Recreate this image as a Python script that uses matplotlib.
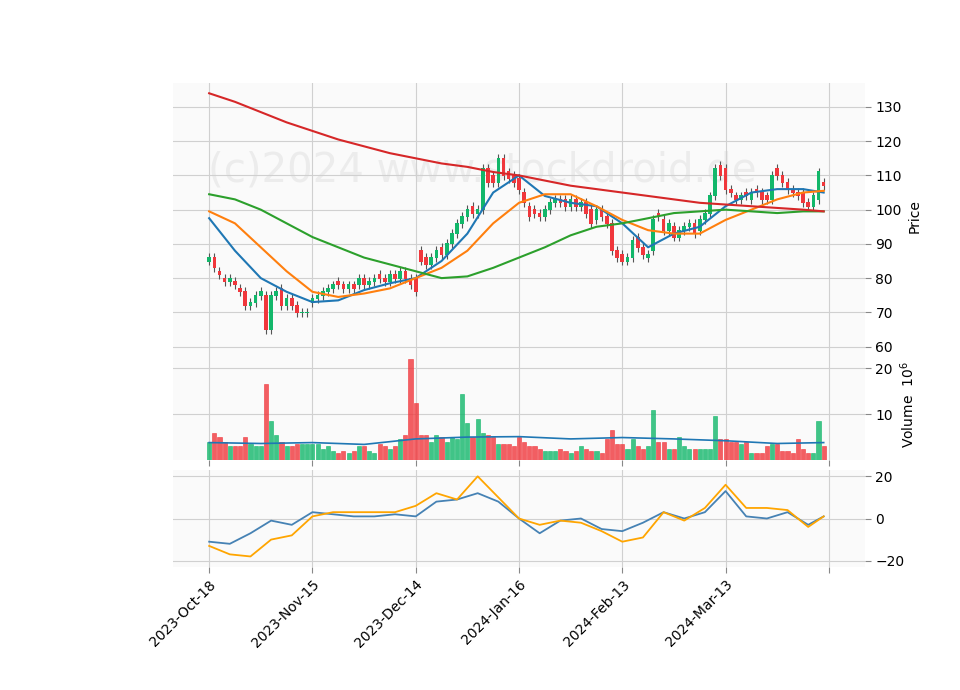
import matplotlib
matplotlib.use("Agg")
import matplotlib.pyplot as plt
import numpy as np

# ---- data ----
opens = [85, 86, 82, 80, 79, 79, 77, 76, 72, 73,
         75, 75, 65, 75, 77, 72, 74, 72, 70, 70,
         73, 74, 75, 76, 77, 79, 78, 77, 78, 78,
         80, 78, 79, 81, 80, 79, 81, 80, 82, 80,
         80, 88, 86, 84, 86, 89, 87, 90, 93, 96,
         98, 101, 99, 100, 112, 110, 108, 115, 111, 110,
         109, 105, 101, 100, 99, 98, 100, 102, 103, 103,
         101, 103, 101, 102, 100, 97, 100, 98, 96, 88,
         87, 85, 86, 92, 89, 86, 88, 99, 97, 94,
         95, 92, 94, 95, 96, 94, 97, 99, 104, 113,
         112, 106, 104, 103, 105, 103, 106, 105, 104, 103,
         112, 110, 108, 106, 105, 105, 102, 101, 103, 108]
closes = [86, 83, 81, 79, 80, 78, 76, 72, 73, 75,
          76, 65, 75, 76, 72, 74, 72, 70, 70, 70,
          74, 75, 76, 77, 78, 78, 77, 78, 77, 80,
          78, 79, 80, 80, 79, 81, 80, 82, 80, 78,
          76, 85, 84, 86, 88, 87, 90, 93, 96, 98,
          100, 99, 100, 112, 108, 108, 115, 110, 109, 108,
          106, 102, 98, 99, 98, 100, 102, 103, 102, 101,
          103, 101, 102, 99, 96, 100, 98, 96, 88, 86,
          85, 86, 91, 89, 87, 87, 97, 98, 94, 96,
          92, 94, 95, 96, 93, 97, 99, 104, 112, 110,
          106, 105, 103, 104, 104, 105, 105, 103, 103, 110,
          110, 108, 106, 105, 104, 102, 101, 104, 111, 107]
wick = 1.3

volumes = [4, 6, 5, 4, 3, 3, 3, 5, 3.5, 3,
           3, 16.5, 8.5, 5.5, 4, 3, 3, 3.5, 3.5, 3.5,
           3.5, 3.5, 2.5, 3, 2, 1.5, 2, 1.5, 2, 3,
           3, 2, 1.5, 3.5, 3, 2.5, 3, 4.5, 5.5, 22,
           12.5, 5.5, 5.5, 4, 5.5, 5, 4, 5, 4.5, 14.5,
           8, 5, 9, 6, 5.5, 5, 3.5, 3.5, 3.5, 3,
           5, 4, 3, 3, 2.5, 2, 2, 2, 2.5, 2,
           1.5, 2, 3, 2.5, 2, 2, 1.5, 4.5, 6.5, 3.5,
           3.5, 2.5, 4.5, 3, 2.5, 3, 11, 4, 4, 2.5,
           2.5, 5, 3, 2.5, 2.5, 2.5, 2.5, 2.5, 9.5, 4.5,
           4.5, 4, 4, 3.5, 4, 1.5, 1.5, 1.5, 3, 3.5,
           3.5, 2, 2, 1.5, 4.5, 2.5, 1.5, 1.5, 8.5, 3]

ma_idx = [0, 5, 10, 15, 20, 25, 30, 35, 40, 45, 50, 55, 60, 65, 70, 75, 80,
          85, 90, 95, 100, 105, 110, 115, 119]
ma_blue = [97.5, 88, 80, 76, 73, 73.5, 76.5, 78.5, 80, 85, 93, 105, 110, 104,
           102, 101, 96, 89, 93, 95, 101, 105, 106, 106, 105]
ma_orange = [99.5, 96, 89, 82, 76, 74.5, 75.5, 77, 80, 83, 88, 96, 102, 104.5,
             104.5, 101, 97, 94, 93, 93, 97, 100, 103, 105, 105.5]
ma_green = [104.5, 103, 100, 96, 92, 89, 86, 84, 82, 80, 80.5, 83, 86, 89,
            92.5, 95, 96, 97.5, 99, 99.5, 100, 99.5, 99, 99.5, 99.5]
ma_red = [134, 131.5, 128.5, 125.5, 123, 120.5, 118.5, 116.5, 115, 113.5,
          112.5, 111, 110, 108.5, 107, 106, 105, 104, 103, 102, 101.5, 101,
          100.5, 100, 99.5]

vol_ma_idx = [0, 10, 20, 30, 40, 50, 60, 70, 80, 90, 100, 110, 119]
vol_ma = [3.8, 3.6, 3.8, 3.4, 4.6, 5.0, 5.1, 4.6, 4.9, 4.6, 4.2, 3.6, 3.8]

osc_idx = [0, 4, 8, 12, 16, 20, 24, 28, 32, 36, 40, 44, 48, 52, 56, 60, 64,
           68, 72, 76, 80, 84, 88, 92, 96, 100, 104, 108, 112, 116, 119]
osc_blue = [-11, -12, -7, -1, -3, 3, 2, 1, 1, 2, 1, 8, 9, 12, 8, 0, -7, -1,
            0, -5, -6, -2, 3, 0, 3, 13, 1, 0, 3, -3, 1]
osc_orange = [-13, -17, -18, -10, -8, 1, 3, 3, 3, 3, 6, 12, 9, 20, 10, 0, -3,
              -1, -2, -6, -11, -9, 3, -1, 5, 16, 5, 5, 4, -4, 1]

tick_pos = [0, 20, 40, 60, 80, 100, 120]
tick_labels = ["2023-Oct-18", "2023-Nov-15", "2023-Dec-14", "2024-Jan-16",
               "2024-Feb-13", "2024-Mar-13", ""]

# ---- plotting ----
UP, DOWN = "#12b76a", "#f0373c"
fig = plt.figure(figsize=(9.6, 6.9), dpi=100)
ax1 = fig.add_axes([173/960, 1-350/690, 692/960, 267/690])
ax2 = fig.add_axes([173/960, 1-460/690, 692/960, 110/690], sharex=ax1)
ax3 = fig.add_axes([173/960, 1-567/690, 692/960, 97/690], sharex=ax1)

x = np.arange(len(closes))
o = np.array(opens, float)
c = np.array(closes, float)
col = np.where(c >= o, UP, DOWN)

for ax in (ax1, ax2, ax3):
    ax.set_facecolor("#fafafa")
    ax.grid(True, color="#d0d0d0", linewidth=0.8)
    ax.set_axisbelow(True)
    for s in ax.spines.values():
        s.set_visible(False)
    ax.yaxis.tick_right()
    ax.yaxis.set_label_position("right")
    ax.tick_params(length=4, color="#888888")

ax1.text(0.05, 0.63, "(c)2024 www.stockdroid.de", transform=ax1.transAxes,
         fontsize=29, color="#ececec", zorder=0)
ax1.vlines(x, np.minimum(o, c) - wick, np.maximum(o, c) + wick,
           color="#555555", linewidth=0.8, zorder=2)
ax1.bar(x, np.abs(c - o) + 0.3, bottom=np.minimum(o, c) - 0.15, width=0.7,
        color=col, zorder=3)
ax1.plot(ma_idx, ma_blue, color="#1f77b4", lw=1.5, zorder=4)
ax1.plot(ma_idx, ma_orange, color="#ff7f0e", lw=1.5, zorder=4)
ax1.plot(ma_idx, ma_green, color="#2ca02c", lw=1.5, zorder=4)
ax1.plot(ma_idx, ma_red, color="#d62728", lw=1.5, zorder=4)
ax1.set_xlim(-7, 127)
ax1.set_ylim(59, 137)
ax1.set_yticks([60, 70, 80, 90, 100, 110, 120, 130])
ax1.set_ylabel("Price")
ax1.tick_params(labelbottom=False)

ax2.bar(x, volumes, width=0.8, color=col, alpha=0.8, edgecolor=col, lw=0.5)
ax2.plot(vol_ma_idx, vol_ma, color="#1f77b4", lw=1.2)
ax2.set_ylim(0, 24)
ax2.set_yticks([10, 20])
ax2.set_ylabel("Volume  $10^6$")
ax2.tick_params(labelbottom=False)

ax3.plot(osc_idx, osc_blue, color="#4682b4", lw=1.3)
ax3.plot(osc_idx, osc_orange, color="orange", lw=1.3)
ax3.set_ylim(-23, 23)
ax3.set_yticks([-20, 0, 20])
ax3.set_yticklabels(["\u221220", "0", "20"])
ax3.set_xticks(tick_pos)
ax3.set_xticklabels(tick_labels, rotation=45, ha="right", rotation_mode="anchor")

fig.savefig("out.png", dpi=100)
